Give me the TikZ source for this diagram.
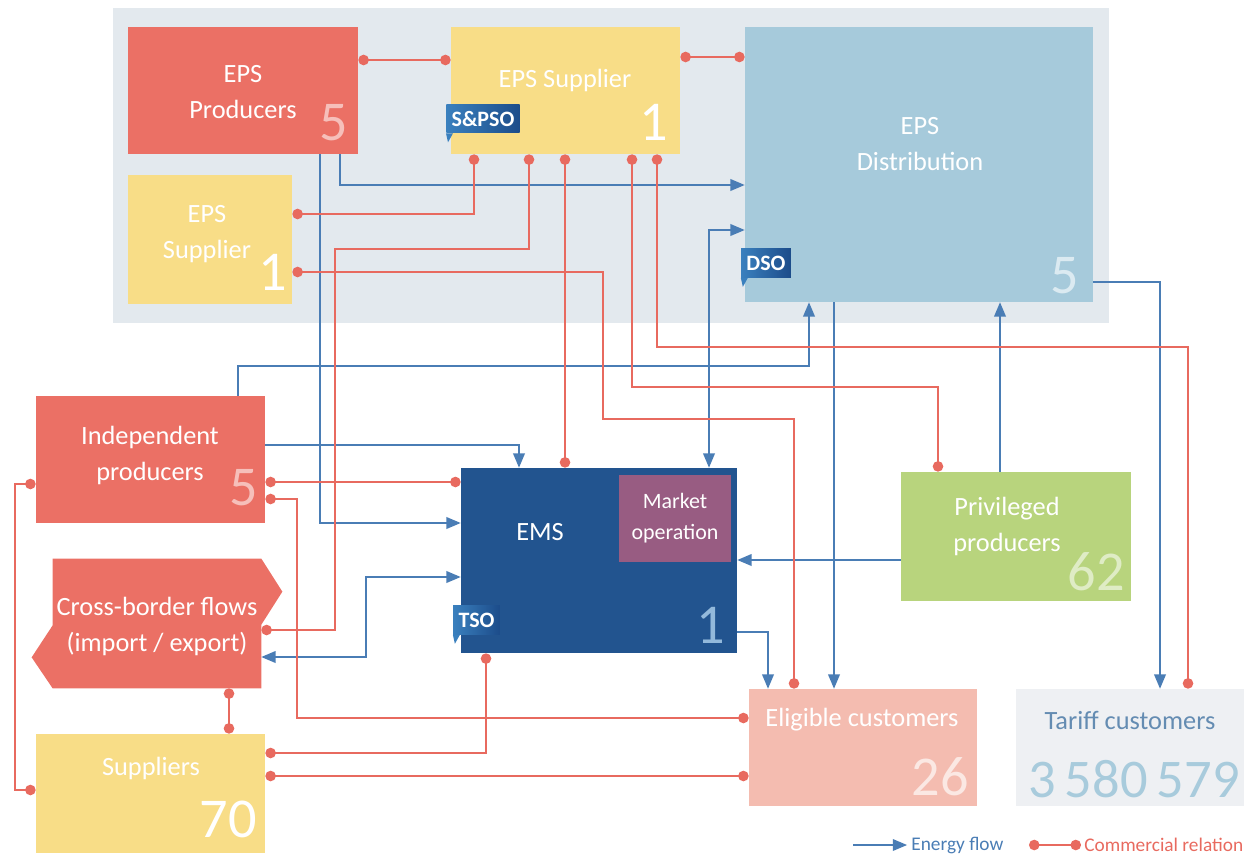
\documentclass[tikz,border=0pt]{standalone}
\usepackage{fontspec}
\setmainfont{Carlito}
\usepackage{tikz}
\usetikzlibrary{arrows}

\definecolor{panelgray}{RGB}{227,233,238}
\definecolor{prodred}{RGB}{235,112,101}
\definecolor{supyellow}{RGB}{248,221,135}
\definecolor{distblue}{RGB}{166,202,219}
\definecolor{emsblue}{RGB}{34,84,143}
\definecolor{mktpurple}{RGB}{152,92,130}
\definecolor{privgreen}{RGB}{184,212,125}
\definecolor{eligpink}{RGB}{244,188,176}
\definecolor{tariffgray}{RGB}{238,240,243}
\definecolor{flowblue}{RGB}{74,125,181}
\definecolor{dealred}{RGB}{232,106,95}
\definecolor{badgelight}{RGB}{58,128,190}
\definecolor{badgedark}{RGB}{28,76,138}
\definecolor{tarifftext}{RGB}{100,140,178}
\definecolor{tariffnum}{RGB}{168,203,220}

\tikzset{
  box/.style n args={3}{fill=#1, minimum width=#2*0.02cm, minimum height=#3*0.02cm, inner sep=0pt},
  lbl/.style={text=white, align=center, inner sep=0pt, font=\fontsize{15}{20.5}\selectfont},
  num/.style={text=#1, anchor=base east, inner sep=0pt, font=\fontsize{32}{32}\selectfont},
  badge/.style={text=white, left color=badgelight, right color=badgedark, inner xsep=3pt, inner ysep=0pt,
    minimum height=0.58cm, font=\bfseries\fontsize{12.5}{12.5}\selectfont},
  flow/.style={draw=flowblue, line width=0.85pt, -triangle 45},
  deal/.style={draw=dealred, line width=0.85pt, *-*},
}

\begin{document}
\begin{tikzpicture}[x=0.02cm, y=-0.02cm]
\useasboundingbox (0,0) rectangle (1257,855);
\fill[panelgray] (113,8) rectangle (1109,323);

% boxes
\path
(243,90.5) node[box={prodred}{230}{127}](prod){}
(565.5,90.5) node[box={supyellow}{229}{127}](sup){}
(919,164.5) node[box={distblue}{348}{275}](dist){}
(210,239.5) node[box={supyellow}{164}{129}](sup2){}
(150.5,459.5) node[box={prodred}{229}{127}](ind){}
(599,560.5) node[box={emsblue}{276}{185}](ems){}
(675,518.5) node[box={mktpurple}{112}{87}](mkt){}
(1016,536.5) node[box={privgreen}{230}{129}](priv){}
(157,623.5) node[box={none}{208}{129}](cbf){}
(150.5,793.5) node[box={supyellow}{229}{119}](supp){}
(863,747.5) node[box={eligpink}{228}{117}](elig){}
(1130,747.5) node[box={tariffgray}{228}{117}](tariff){}
;
\fill[prodred] (cbf.north west) -- (cbf.north east) -- ++(21,33) -- ++(-21,33)
  -- (cbf.south east) -- (cbf.south west) -- ++(-21,-31) -- ++(21,-32) -- cycle;

% energy flows
\draw[flow] (prod.south -| 320,0) |- (ems.west |- 0,523);
\draw[flow] (prod.south -| 340,0) |- (dist.west |- 0,185);
\draw[flow, triangle 45-triangle 45] (ems.north -| 709,0) |- (dist.west |- 0,230);
\draw[flow] (ind.north -| 238,0) |- (809,366) -- (dist.south -| 809,0);
\draw[flow] (ind.east |- 0,445) -| (ems.north -| 519,0);
\draw[flow, triangle 45-triangle 45] (ems.west |- 0,577) -| (366,657) -- (cbf.east |- 0,657);
\draw[flow] (priv.west |- 0,560) -- (ems.east |- 0,560);
\draw[flow] (priv.north -| 1000,0) -- (dist.south -| 1000,0);
\draw[flow] (ems.east |- 0,632) -| (elig.north -| 768,0);
\draw[flow] (dist.south -| 834,0) -- (elig.north -| 834,0);
\draw[flow] (dist.east |- 0,282) -| (tariff.north -| 1160,0);

% commercial relations
\draw[deal] (prod.east |- 0,60) -- (sup.west |- 0,60);
\draw[deal] (sup.east |- 0,57) -- (dist.west |- 0,57);
\draw[deal] (sup.south -| 474,0) |- (sup2.east |- 0,214);
\draw[deal] (sup.south -| 529,0) |- (335,249) |- (cbf.east |- 0,630);
\draw[deal] (sup.south -| 565,0) -- (ems.north -| 565,0);
\draw[deal] (sup2.east |- 0,272) -| (603,419) -| (elig.north -| 794,0);
\draw[deal] (sup.south -| 632,0) |- (938,387) -- (priv.north -| 938,0);
\draw[deal] (sup.south -| 657,0) |- (1188,347) -- (tariff.north -| 1188,0);
\draw[deal] (ind.east |- 0,482) -- (ems.west |- 0,482);
\draw[deal] (ind.east |- 0,499) -| (297,718) -- (elig.west |- 0,718);
\draw[deal] (ind.west |- 0,484) -| (15,790) -- (supp.west |- 0,790);
\draw[deal] (cbf.south -| 229,0) -- (supp.north -| 229,0);
\draw[deal] (ems.south -| 486,0) |- (supp.east |- 0,753);
\draw[deal] (supp.east |- 0,776) -- (elig.west |- 0,776);

% texts
\node[lbl] (prod-l) at (243,92) {EPS\\Producers};
\node[lbl] (sup-l) at (565,80) {EPS Supplier};
\node[lbl] (dist-l) at (920,144) {EPS\\Distribution};
\node[lbl] (sup2-l) at (207,234) {EPS\\Supplier};
\node[lbl] (ind-l) at (150,455) {Independent\\producers};
\node[lbl] (ems-l) at (540,532) {EMS};
\node[lbl, font=\fontsize{12.5}{18}\selectfont] (mkt-l) at (675,518) {Market\\operation};
\node[lbl] (priv-l) at (1007,526) {Privileged\\producers};
\node[lbl] (cbf-l) at (157,626) {Cross-border flows\\(import / export)};
\node[lbl] (supp-l) at (151,768) {Suppliers};
\node[lbl] (elig-l) at (862,720) {Eligible customers};
\node[lbl, text=tarifftext] (tariff-l) at (1130,720) {Tariff customers};

% counts
\node[num={prodred!45!white}] (prod-n) at (348,140) {5};
\node[num=white] (sup-n) at (668,140) {1};
\node[num=white] (sup2-n) at (287,290) {1};
\node[num={distblue!40!white}] (dist-n) at (1079,293) {5};
\node[num={prodred!45!white}] (ind-n) at (258,505) {5};
\node[num={badgelight!55!white}] (ems-n) at (725,643) {1};
\node[num={privgreen!45!white}] (priv-n) at (1125,590) {62};
\node[num={eligpink!35!white}] (elig-n) at (969,795) {26};
\node[num=white] (supp-n) at (257,837) {70};
\node[num=tariffnum, anchor=base, font=\fontsize{31}{31}\selectfont] (tariff-n) at (1134,797) {3\,580\,579};

% badges
\node[badge] (spso) at (483,118.5) {S\&PSO};
\node[badge] (dso) at (766,263) {DSO};
\node[badge] (tso) at (476.5,620) {TSO};
\foreach \b in {spso,dso,tso}{
\fill[badgelight] (\b.south west) -- ++(7,0) -- ++(-5,9) -- cycle;
}

% legend
\coordinate (fl-a) at (853,845);
\coordinate (fl-b) at (907,845);
\draw[flow] (fl-a) -- (fl-b);
\node[anchor=west, inner sep=0pt, text=flowblue, font=\fontsize{11}{12}\selectfont] (fl-t) at (911,845) {Energy flow};
\coordinate (cr-a) at (1029,845);
\coordinate (cr-b) at (1081,845);
\draw[deal] (cr-a) -- (cr-b);
\node[anchor=west, inner sep=0pt, text=dealred, font=\fontsize{11}{12}\selectfont] (cr-t) at (1084,845) {Commercial relation};
\end{tikzpicture}
\end{document}
